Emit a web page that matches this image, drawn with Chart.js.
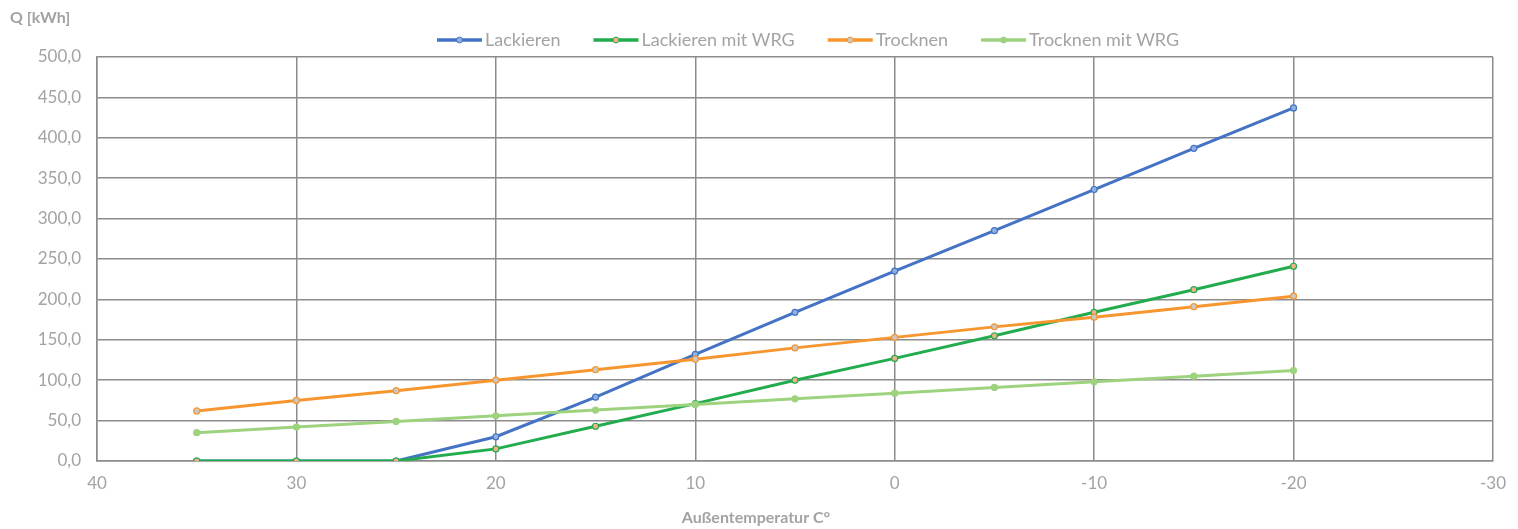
<!DOCTYPE html>
<html>
<head>
<meta charset="utf-8">
<script src="https://cdn.jsdelivr.net/npm/chart.js@4"></script>
<style>
  html, body { margin: 0; padding: 0; background: #fff; }
  #wrap { width: 1518px; height: 529px; position: relative; }
</style>
</head>
<body>
<div id="wrap"><canvas id="chart"></canvas></div>
<script>
// Außentemperatur (x) und Energiebedarf Q [kWh] je Prozess
const temps = [35, 30, 25, 20, 15, 10, 5, 0, -5, -10, -15, -20];
const lackieren = [0, 0, 0, 30, 79, 132, 184, 235, 285, 336, 387, 437];
const lackierenWrg = [0, 0, 0, 15, 43, 71, 100, 127, 155, 184, 212, 241];
const trocknen = [62, 75, 87, 100, 113, 126, 140, 153, 166, 178, 191, 204];
const trocknenWrg = [35, 42, 49, 56, 63, 70, 77, 84, 91, 98, 105, 112];
const seriesNames = ['Lackieren', 'Lackieren mit WRG', 'Trocknen', 'Trocknen mit WRG'];
const yTitle = 'Q [kWh]';
const xTitle = 'Außentemperatur C°';

const textGray = '#a3a3a3';
const gridGray = '#8c8c8c';

function toPoints(values) {
    return temps.map((t, i) => ({ x: t, y: values[i] }));
}

// Excel zeichnet spätere Reihen oben drauf -> order absteigend
function makeSeries(label, values, color, pointFill, order) {
    return {
        label: label,
        data: toPoints(values),
        borderColor: color,
        backgroundColor: color,
        borderWidth: 3,
        pointRadius: 3,
        pointBorderWidth: 1.2,
        pointBorderColor: color,
        pointBackgroundColor: pointFill,
        fill: false,
        tension: 0,
        order: order
    };
}

// Achsentitel + Legende (Linie mit Punkt) wie im Excel-Original
const chartTexts = {
    id: 'chartTexts',
    afterDraw(chart) {
        const ctx = chart.ctx;
        ctx.save();
        ctx.fillStyle = textGray;
        ctx.textBaseline = 'middle';

        ctx.font = 'bold 16px Lato';
        ctx.textAlign = 'left';
        ctx.fillText(yTitle, 10, 18);
        ctx.textAlign = 'center';
        ctx.fillText(xTitle, 756, 518);

        ctx.font = '18px Lato';
        ctx.textAlign = 'left';
        let x = 437;
        const y = 40;
        chart.data.datasets.forEach(ds => {
            ctx.beginPath();
            ctx.moveTo(x, y);
            ctx.lineTo(x + 45, y);
            ctx.lineWidth = 3.5;
            ctx.strokeStyle = ds.borderColor;
            ctx.stroke();
            ctx.beginPath();
            ctx.arc(x + 22.5, y, 3, 0, Math.PI * 2);
            ctx.fillStyle = ds.pointBackgroundColor;
            ctx.fill();
            ctx.lineWidth = 1;
            ctx.stroke();
            ctx.fillStyle = textGray;
            ctx.fillText(ds.label, x + 48, y);
            x += 48 + ctx.measureText(ds.label).width + 33;
        });
        ctx.restore();
    }
};

const ctx = document.getElementById('chart').getContext('2d');
new Chart(ctx, {
    type: 'line',
    data: {
        datasets: [
            makeSeries(seriesNames[0], lackieren, '#4472c4', '#8fb0e0', 3),
            makeSeries(seriesNames[1], lackierenWrg, '#22ac4e', '#f4b183', 2),
            makeSeries(seriesNames[2], trocknen, '#f7962f', '#c8c8c8', 1),
            makeSeries(seriesNames[3], trocknenWrg, '#9dd27e', '#9dd27e', 0)
        ]
    },
    options: {
        responsive: true,
        maintainAspectRatio: false,
        animation: false,
        layout: { padding: { left: 10, right: 24, top: 57, bottom: 0 } },
        plugins: {
            legend: { display: false },
            title: { display: false },
            tooltip: { enabled: false }
        },
        scales: {
            x: {
                type: 'linear',
                reverse: true,
                min: -30,
                max: 40,
                ticks: { stepSize: 10, color: textGray, font: { family: 'Lato', size: 17 }, padding: 12 },
                grid: { color: gridGray, lineWidth: 1.5, drawTicks: false },
                border: { color: gridGray, width: 1.5 },
                afterFit(scale) { scale.height = 68; }
            },
            y: {
                min: 0,
                max: 500,
                ticks: {
                    stepSize: 50,
                    color: textGray,
                    font: { family: 'Lato', size: 17 },
                    padding: 16,
                    callback: v => v.toFixed(1).replace('.', ',')
                },
                grid: { color: gridGray, lineWidth: 1.5, drawTicks: false },
                border: { color: gridGray, width: 1.5 },
                afterFit(scale) { scale.width = 87; }
            }
        }
    },
    plugins: [chartTexts]
});
</script>
</body>
</html>
